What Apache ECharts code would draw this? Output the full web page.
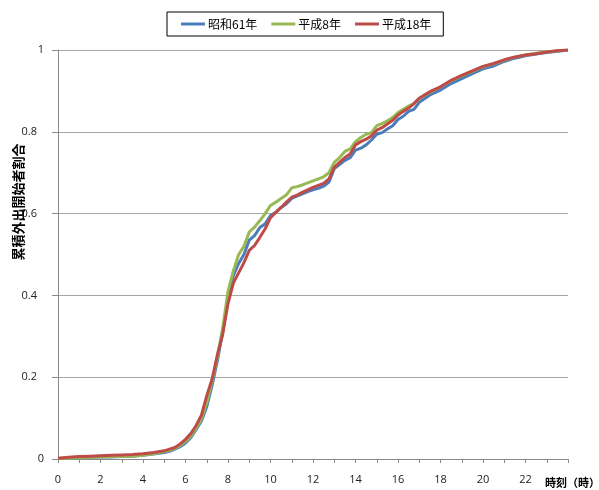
<!DOCTYPE html>
<html>
<head>
<meta charset="utf-8">
<script src="https://cdn.jsdelivr.net/npm/echarts@6/dist/echarts.min.js"></script>
<style>
  html, body { margin: 0; padding: 0; background: #fff; }
  #chart { width: 599px; height: 490px; }
</style>
</head>
<body>
<div id="chart"></div>
<script>
// Time of day (hours)
const hours = [
  0, 0.5, 1, 1.5, 2, 2.5, 3, 3.5, 4, 4.5, 5,
  5.25, 5.5, 5.75, 6, 6.25, 6.5, 6.75, 7, 7.25, 7.5, 7.75, 8,
  8.25, 8.5, 8.75, 9, 9.25, 9.5, 9.75, 10, 10.25, 10.5, 10.75, 11,
  11.25, 11.5, 11.75, 12, 12.25, 12.5, 12.75, 13, 13.25, 13.5, 13.75, 14,
  14.25, 14.5, 14.75, 15, 15.25, 15.5, 15.75, 16, 16.25, 16.5, 16.75, 17,
  17.5, 18, 18.5, 19, 19.5, 20, 20.5, 21, 21.5, 22, 22.5, 23, 23.5, 24
];

// Cumulative share of people who have started going out
const showa61 = [
  0.001, 0.002, 0.003, 0.004, 0.005, 0.005, 0.006, 0.007, 0.009, 0.012, 0.016,
  0.019, 0.024, 0.030, 0.039, 0.052, 0.072, 0.093, 0.128, 0.180, 0.240, 0.310, 0.395,
  0.448, 0.478, 0.500, 0.535, 0.546, 0.566, 0.575, 0.595, 0.603, 0.615, 0.624, 0.637,
  0.643, 0.648, 0.654, 0.658, 0.662, 0.667, 0.677, 0.710, 0.720, 0.730, 0.737, 0.755,
  0.760, 0.768, 0.780, 0.794, 0.798, 0.807, 0.815, 0.830, 0.838, 0.850, 0.855, 0.872,
  0.890, 0.902, 0.918, 0.930, 0.942, 0.954, 0.961, 0.972, 0.980, 0.986, 0.990, 0.994, 0.997, 1.000
];
const heisei8 = [
  0.001, 0.002, 0.003, 0.004, 0.005, 0.006, 0.006, 0.007, 0.009, 0.013, 0.018,
  0.021, 0.026, 0.033, 0.043, 0.056, 0.076, 0.098, 0.138, 0.190, 0.250, 0.320, 0.410,
  0.460, 0.500, 0.520, 0.555, 0.567, 0.583, 0.600, 0.620, 0.628, 0.637, 0.646, 0.663,
  0.666, 0.670, 0.675, 0.680, 0.685, 0.690, 0.700, 0.725, 0.737, 0.752, 0.758, 0.776,
  0.786, 0.794, 0.798, 0.815, 0.820, 0.827, 0.835, 0.847, 0.855, 0.863, 0.869, 0.882,
  0.897, 0.910, 0.925, 0.937, 0.948, 0.959, 0.966, 0.975, 0.982, 0.988, 0.992, 0.995, 0.998, 1.000
];
const heisei18 = [
  0.002, 0.004, 0.006, 0.007, 0.008, 0.009, 0.010, 0.011, 0.013, 0.016, 0.020,
  0.024, 0.028, 0.037, 0.048, 0.062, 0.082, 0.107, 0.155, 0.195, 0.255, 0.305, 0.380,
  0.430, 0.455, 0.480, 0.510, 0.522, 0.542, 0.563, 0.590, 0.603, 0.615, 0.628, 0.640,
  0.645, 0.652, 0.658, 0.664, 0.669, 0.674, 0.685, 0.713, 0.725, 0.737, 0.746, 0.768,
  0.776, 0.782, 0.790, 0.804, 0.810, 0.819, 0.828, 0.841, 0.850, 0.858, 0.869, 0.882,
  0.898, 0.910, 0.926, 0.938, 0.949, 0.960, 0.967, 0.976, 0.983, 0.988, 0.991, 0.995, 0.998, 1.000
];

const seriesNames = ['昭和61年', '平成8年', '平成18年'];
const seriesColors = ['#4A7EBB', '#98B954', '#BE4B48'];
const seriesValues = [showa61, heisei8, heisei18];

const pair = vals => hours.map((h, i) => [h, vals[i]]);

const font = '"Noto Sans CJK JP", "Noto Sans", sans-serif';
const numFont = '"Open Sans", "Noto Sans", sans-serif';

const chart = echarts.init(document.getElementById('chart'), null, { renderer: 'canvas' });

chart.setOption({
  animation: false,
  backgroundColor: '#ffffff',
  textStyle: { fontFamily: font },
  legend: {
    left: 167,
    top: 12,
    padding: [6, 12, 6, 14],
    borderColor: '#000',
    borderWidth: 1,
    icon: 'rect',
    itemWidth: 24,
    itemHeight: 3,
    itemGap: 14,
    textStyle: { fontSize: 12, color: '#000', fontFamily: font, padding: [0, 0, 0, -2] },
    data: seriesNames
  },
  grid: { left: 58, right: 31, top: 50, bottom: 31, containLabel: false },
  xAxis: {
    type: 'value',
    min: 0,
    max: 24,
    interval: 1,
    axisLine: { show: true, lineStyle: { color: '#8a8a8a', width: 1 } },
    axisTick: { show: true, length: 4, inside: false, lineStyle: { color: '#8a8a8a' } },
    splitLine: { show: false },
    axisLabel: {
      margin: 15,
      fontSize: 11,
      color: '#222',
      fontFamily: numFont,
      formatter: v => (v % 2 === 0 && v < 24) ? String(v) : ''
    }
  },
  yAxis: {
    type: 'value',
    min: 0,
    max: 1,
    interval: 0.2,
    axisLine: { show: true, lineStyle: { color: '#8a8a8a', width: 1 } },
    axisTick: { show: true, length: 6, inside: false, lineStyle: { color: '#8a8a8a' } },
    splitLine: { show: true, lineStyle: { color: '#a6a6a6', width: 1 } },
    axisLabel: {
      margin: 14,
      fontSize: 11,
      color: '#222',
      fontFamily: numFont,
      formatter: v => {
        const s = String(Math.round(v * 10) / 10);
        return (s === '0' || s === '1') ? s : '{d|' + s + '}';
      },
      rich: { d: { padding: [0, 7, 0, 0], fontSize: 11, color: '#222', fontFamily: numFont } }
    }
  },
  graphic: [
    {
      type: 'text',
      x: 18,
      y: 202,
      rotation: Math.PI / 2,
      style: {
        text: '累積外出開始者割合',
        font: 'bold 13px ' + font,
        fill: '#000',
        align: 'center',
        verticalAlign: 'middle'
      }
    },
    {
      type: 'text',
      x: 545,
      y: 483,
      style: {
        text: '時刻（時）',
        font: 'bold 11px ' + font,
        fill: '#000',
        align: 'left',
        verticalAlign: 'middle'
      }
    }
  ],
  series: seriesNames.map((name, i) => ({
    name: name,
    type: 'line',
    data: pair(seriesValues[i]),
    symbol: 'none',
    smooth: false,
    color: seriesColors[i],
    lineStyle: { width: 3, color: seriesColors[i] },
    itemStyle: { color: seriesColors[i] }
  }))
});
</script>
</body>
</html>
